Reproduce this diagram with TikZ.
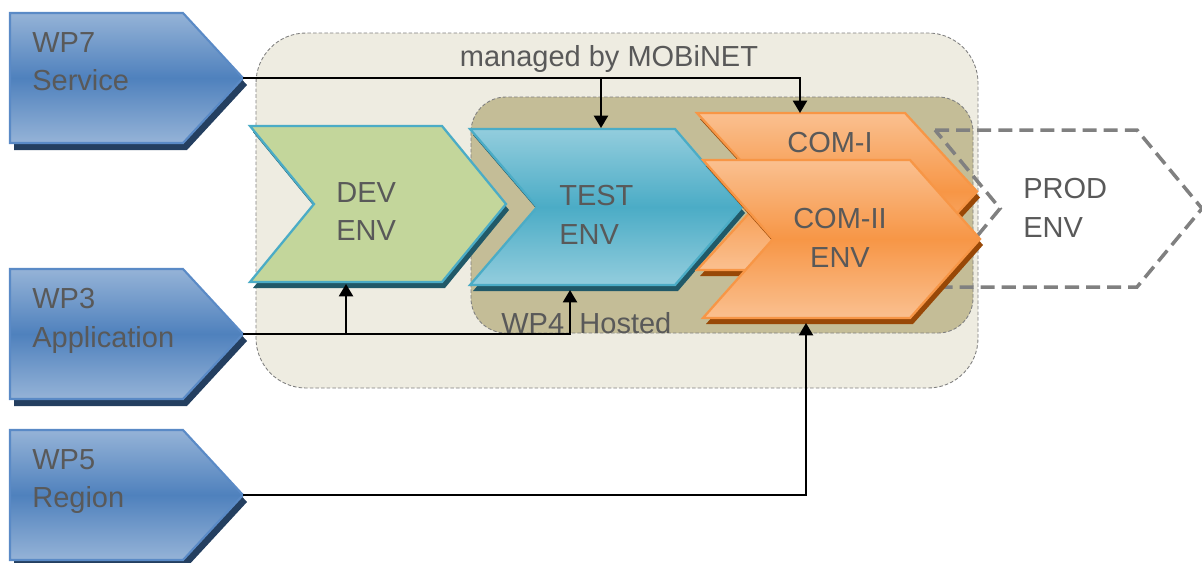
\documentclass[tikz,border=0pt]{standalone}
\usepackage{fontspec}
\setmainfont{Liberation Sans}
\usetikzlibrary{arrows.meta}

\definecolor{wplight}{HTML}{95B3D7}
\definecolor{wpmid}{HTML}{4F81BD}
\definecolor{wpline}{HTML}{5A8AC6}
\definecolor{wpshade}{HTML}{243F60}
\definecolor{devfill}{HTML}{C3D69B}
\definecolor{envline}{HTML}{4BACC6}
\definecolor{testlight}{HTML}{93CDDD}
\definecolor{testmid}{HTML}{4BACC6}
\definecolor{envshade}{HTML}{215968}
\definecolor{comlight}{HTML}{FAC090}
\definecolor{commid}{HTML}{F79646}
\definecolor{comshade}{HTML}{984807}
\definecolor{mobifill}{HTML}{EEECE1}
\definecolor{hostfill}{HTML}{C4BD97}
\definecolor{txtgray}{HTML}{595959}
\definecolor{prodline}{HTML}{808080}

% outlines: x, y (top left), width, height, tip depth
\newcommand{\chevpath}[5]{(#1,#2) -- ++(#3,0) -- ++(#5,#4/2) -- ++(-#5,#4/2) -- ++(-#3,0) -- ++(#5,-#4/2) -- cycle}
\newcommand{\pentpath}[5]{(#1,#2) -- ++(#3,0) -- ++(#5,#4/2) -- ++(-#5,#4/2) -- ++(-#3,0) -- cycle}

\begin{document}
\begin{tikzpicture}[x=0.02cm, y=-0.02cm,
    lbl/.style={text=txtgray, inner sep=0pt, font=\fontsize{16.5}{22}\selectfont, align=left},
    wpbox/.style={draw=wpline, line width=1.2pt, top color=wplight, bottom color=wplight, middle color=wpmid},
    devbox/.style={draw=envline, line width=1.3pt, fill=devfill},
    testbox/.style={draw=envline, line width=1.3pt, top color=testlight, bottom color=testlight, middle color=testmid},
    combox/.style={draw=commid, line width=1.3pt, top color=comlight, bottom color=comlight, middle color=commid},
    area/.style={draw=prodline, line width=0.5pt, dash pattern=on 2pt off 1.2pt},
    wire/.style={line width=1.1pt, -{Triangle[length=7pt,width=8pt]}}]
  \useasboundingbox (0,0) rectangle (1202,562);

  % areas
  \draw[area, fill=mobifill, rounded corners=1cm] (256,33) rectangle (978,388);
  \draw[area, fill=hostfill, rounded corners=0.7cm] (471,97) rectangle (973,333);
  \node[lbl, anchor=north, align=center] (mobinet) at (609,45) {managed by MOBiNET};
  \node[lbl, anchor=north west] (hosted) at (501,312) {WP4\hspace{0.25em} Hosted};

  % work packages
  \fill[wpshade, shift={(4,7)}] \pentpath{10}{13}{173}{130}{60};
  \draw[wpbox] \pentpath{10}{13}{173}{130}{60};
  \node[lbl, anchor=north west] (wpseven) at (32,32) {WP7\\Service};
  \fill[wpshade, shift={(4,7)}] \pentpath{10}{269}{173}{130}{60};
  \draw[wpbox] \pentpath{10}{269}{173}{130}{60};
  \node[lbl, anchor=north west] (wpthree) at (32,288) {WP3\\Application};
  \fill[wpshade, shift={(4,7)}] \pentpath{10}{430}{173}{130}{60};
  \draw[wpbox] \pentpath{10}{430}{173}{130}{60};
  \node[lbl, anchor=north west] (wpfive) at (32,449) {WP5\\Region};

  % environments
  \fill[envshade, shift={(3,6)}] \chevpath{250}{126}{192}{156}{64};
  \draw[devbox] \chevpath{250}{126}{192}{156}{64};
  \node[lbl, anchor=north west] (dev) at (336,182) {DEV\\ENV};

  \fill[envshade, shift={(3,6)}] \chevpath{470}{129}{205}{156}{67};
  \draw[testbox] \chevpath{470}{129}{205}{156}{67};
  \node[lbl, anchor=north west] (test) at (559,185) {TEST\\ENV};

  \fill[comshade, shift={(3,6)}] \chevpath{697}{113}{208}{157}{72};
  \draw[combox] \chevpath{697}{113}{208}{157}{72};
  \node[lbl, anchor=north] (comone) at (830,132) {COM-I};

  \draw[prodline, line width=2pt, dash pattern=on 8pt off 4pt] \chevpath{935}{130}{202}{157}{65};
  \node[lbl, anchor=north west] (prod) at (1023,178) {PROD\\ENV};

  \fill[comshade, shift={(3,6)}] \chevpath{703}{160}{207}{158}{70};
  \draw[combox] \chevpath{703}{160}{207}{158}{70};
  \node[lbl, anchor=north, align=center] (comtwo) at (840,208) {COM-II\\ENV};

  % connectors
  \coordinate (wpseven-tip) at (243,78);
  \coordinate (wpthree-tip) at (243,334);
  \coordinate (wpfive-tip) at (243,495);
  \coordinate (comone-top) at (800,113);
  \coordinate (test-top) at (601,128);
  \coordinate (dev-in) at (346,284);
  \coordinate (test-in) at (570,290);
  \coordinate (comtwo-in) at (806,323);

  \draw[wire] (wpseven-tip) -| (comone-top);
  \draw[wire] (wpseven-tip -| test-top) -- (test-top);
  \draw[wire] (wpthree-tip) -| (test-in);
  \draw[wire] (wpthree-tip -| dev-in) -- (dev-in);
  \draw[wire] (wpfive-tip) -| (comtwo-in);
\end{tikzpicture}
\end{document}
